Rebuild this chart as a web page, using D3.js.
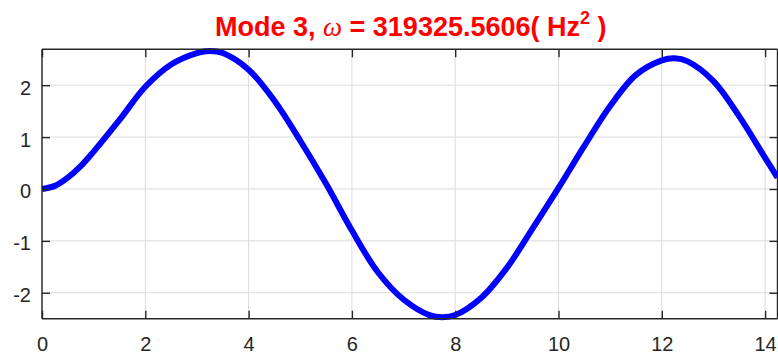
<!DOCTYPE html>
<html>
<head>
<meta charset="utf-8">
<script src="https://cdn.jsdelivr.net/npm/d3@7/dist/d3.min.js"></script>
<style>
  html, body { margin: 0; padding: 0; background: #ffffff; }
  svg { display: block; }
  text { font-family: "Liberation Sans", Arial, Helvetica, sans-serif; }
</style>
</head>
<body>
<div id="chart"></div>
<script>
// Mode shape samples: position along the beam and normalized displacement
const positions = [0, 0.25, 0.5, 0.75, 1.0, 1.5, 2.0, 2.5, 3.0, 3.25, 3.5, 4.0, 4.5, 5.0, 5.5,
  6.0, 6.5, 7.0, 7.5, 7.75, 8.0, 8.5, 9.0, 9.5, 10.0, 10.5, 11.0, 11.5, 12.0, 12.25, 12.5,
  13.0, 13.5, 14.0, 14.24];
const displacement = [0, 0.06, 0.22, 0.44, 0.72, 1.33, 1.97, 2.40, 2.62, 2.66, 2.62, 2.30, 1.70, 0.93, 0.10,
  -0.80, -1.60, -2.13, -2.43, -2.47, -2.43, -2.10, -1.52, -0.76, 0.02, 0.83, 1.60, 2.20, 2.48, 2.52, 2.46,
  2.08, 1.40, 0.60, 0.22];
const xTicks = [0, 2, 4, 6, 8, 10, 12, 14];
const yTicks = [-2, -1, 0, 1, 2];
const xDomain = [0, 14.24];
const yDomain = [-2.5, 2.692];
const modeNumber = 3;
const omegaText = "319325.5606";

const W = 778, H = 355;
const plot = { left: 42, right: 777.5, top: 49.3, bottom: 318.7 };

const svg = d3.select("#chart").append("svg")
  .attr("width", W).attr("height", H);

const x = d3.scaleLinear().domain(xDomain).range([plot.left, plot.right]);
const y = d3.scaleLinear().domain(yDomain).range([plot.bottom, plot.top]);

const axisColor = "#262626";
const gridColor = "#dcdcdc";
const tickLen = 8;

// grid
const grid = svg.append("g");
grid.selectAll("line.vx").data(xTicks).join("line")
  .attr("x1", d => x(d)).attr("x2", d => x(d))
  .attr("y1", plot.top).attr("y2", plot.bottom)
  .attr("stroke", gridColor).attr("stroke-width", 1);
grid.selectAll("line.hy").data(yTicks).join("line")
  .attr("x1", plot.left).attr("x2", plot.right)
  .attr("y1", d => y(d)).attr("y2", d => y(d))
  .attr("stroke", gridColor).attr("stroke-width", 1);

// mode shape curve
const line = d3.line()
  .x((d, i) => x(positions[i]))
  .y(d => y(d))
  .curve(d3.curveCatmullRom.alpha(0.5));

svg.append("clipPath").attr("id", "clip")
  .append("rect").attr("x", plot.left - 4).attr("y", 0)
  .attr("width", plot.right - plot.left + 8).attr("height", H);

svg.append("path")
  .datum(displacement)
  .attr("d", line)
  .attr("fill", "none")
  .attr("stroke", "#0000ff")
  .attr("stroke-width", 6)
  .attr("stroke-linejoin", "round")
  .attr("clip-path", "url(#clip)");

// axes (box with inward ticks); plain hyphen for negative labels
const fmt = d => String(d);
const bottomAxis = d3.axisBottom(x).tickValues(xTicks).tickSize(-tickLen).tickPadding(18).tickFormat(fmt);
const topAxis = d3.axisTop(x).tickValues(xTicks).tickSize(-tickLen).tickFormat("");
const leftAxis = d3.axisLeft(y).tickValues(yTicks).tickSize(-tickLen).tickPadding(11).tickFormat(fmt);
const rightAxis = d3.axisRight(y).tickValues(yTicks).tickSize(-tickLen).tickFormat("");

function styleAxis(g) {
  g.select(".domain").attr("stroke", axisColor).attr("stroke-width", 1.4);
  g.selectAll(".tick line").attr("stroke", axisColor).attr("stroke-width", 1.4);
  g.selectAll(".tick text").attr("fill", axisColor)
    .style("font-size", "20px");
}

svg.append("g").attr("transform", `translate(0,${plot.bottom})`)
  .call(bottomAxis).call(styleAxis)
  .call(g => g.select(".domain").attr("d", `M${plot.left},0H${plot.right}`));
svg.append("g").attr("transform", `translate(0,${plot.top})`)
  .call(topAxis).call(styleAxis)
  .call(g => g.select(".domain").attr("d", `M${plot.left},0H${plot.right}`));
svg.append("g").attr("transform", `translate(${plot.left},0)`)
  .call(leftAxis).call(styleAxis)
  .call(g => g.select(".domain").attr("d", `M0,${plot.top}V${plot.bottom}`))
  .call(g => g.selectAll(".tick text").attr("dy", "0.45em"));
svg.append("g").attr("transform", `translate(${plot.right},0)`)
  .call(rightAxis).call(styleAxis)
  .call(g => g.select(".domain").attr("d", `M0,${plot.top}V${plot.bottom}`));

// title
const title = svg.append("text")
  .attr("x", (plot.left + plot.right) / 2 + 1)
  .attr("y", 36)
  .attr("text-anchor", "middle")
  .attr("fill", "#ff0000")
  .style("font-size", "27px")
  .style("font-weight", "bold");
title.append("tspan").text(`Mode ${modeNumber}, `);
title.append("tspan").text("\u03C9")
  .style("font-style", "italic").style("font-weight", "normal")
  .style("font-family", "'Liberation Serif', 'DejaVu Serif', serif");
title.append("tspan").text(` = ${omegaText}( Hz`);
title.append("tspan").text("2").attr("dy", -12).style("font-size", "18px");
title.append("tspan").text(" )").attr("dy", 12);
</script>
</body>
</html>
